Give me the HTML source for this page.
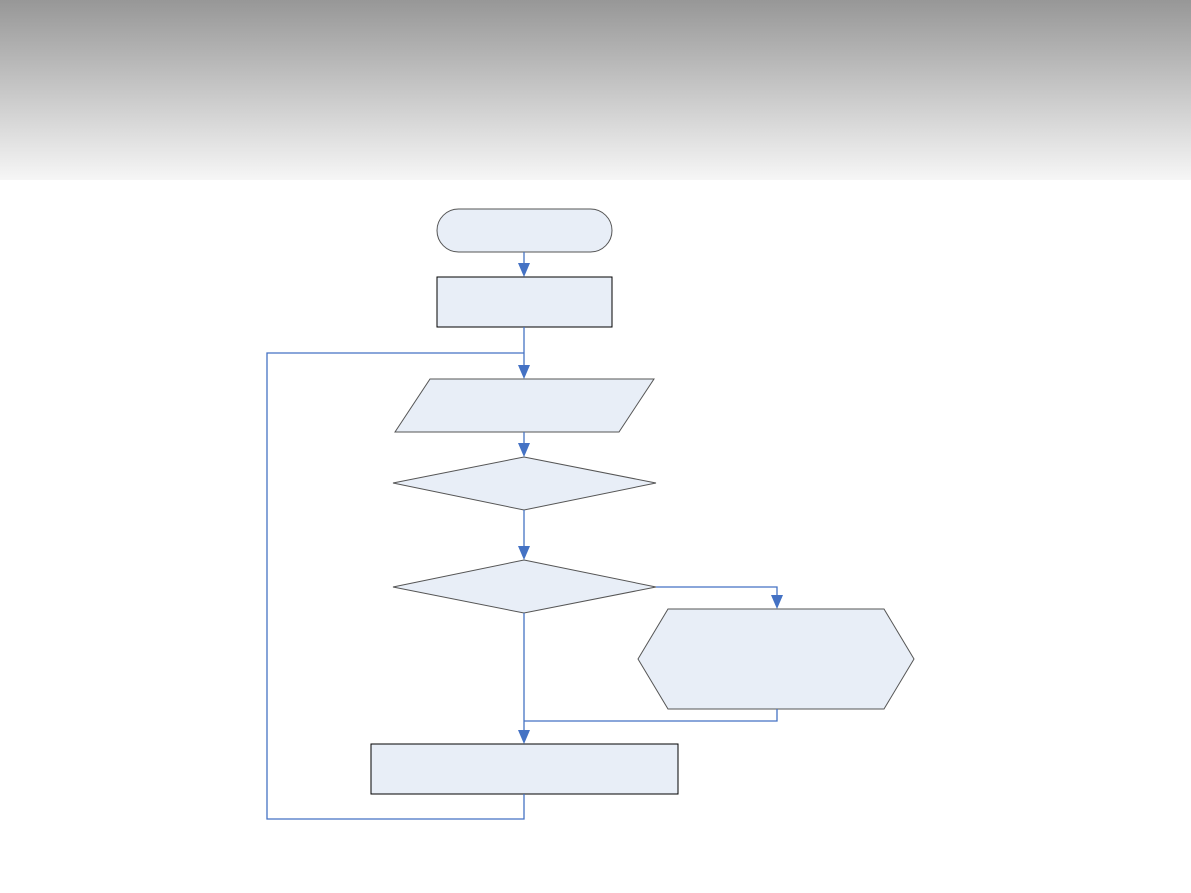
<!DOCTYPE html>
<html><head><meta charset="utf-8"><style>
html,body{margin:0;padding:0;background:#fff;}
.wrap{position:relative;width:1191px;height:893px;overflow:hidden;}
.hdr{position:absolute;left:0;top:0;width:1191px;height:180px;background:linear-gradient(#979797,#f6f6f6);}
svg{position:absolute;left:0;top:0;}
</style></head><body><div class="wrap"><div class="hdr"></div>
<svg width="1191" height="893" viewBox="0 0 1191 893">
<g fill="#e8eef7" stroke="#555" stroke-width="1">
<rect x="437" y="209" width="175" height="43" rx="21.5"/>
<rect x="437" y="277" width="175" height="50" stroke="#000"/>
<polygon points="430,379 654,379 619,432 395,432"/>
<polygon points="524,457 656,483 524,510 393,483"/>
<polygon points="524,560 656,587 524,613 393,587"/>
<polygon points="668,609 884,609 914,659 884,709 668,709 638,659"/>
<rect x="371" y="744" width="307" height="50" stroke="#000"/>
</g>
<g fill="none" stroke="#4472c4" stroke-width="1.3">
<line x1="524" y1="252" x2="524" y2="265"/>
<line x1="524" y1="327" x2="524" y2="367"/>
<line x1="524" y1="432" x2="524" y2="445"/>
<line x1="524" y1="510" x2="524" y2="548"/>
<line x1="524" y1="613" x2="524" y2="732"/>
<polyline points="656,587 777,587 777,597"/>
<polyline points="777,709 777,721 524,721"/>
<polyline points="524,794 524,819 267,819 267,353 524,353"/>
</g>
<g fill="#4472c4">
<polygon points="518,263 530,263 524,277"/>
<polygon points="518,365 530,365 524,379"/>
<polygon points="518,443 530,443 524,457"/>
<polygon points="518,546 530,546 524,560"/>
<polygon points="518,730 530,730 524,744"/>
<polygon points="771,595 783,595 777,609"/>
</g>
</svg></div></body></html>
